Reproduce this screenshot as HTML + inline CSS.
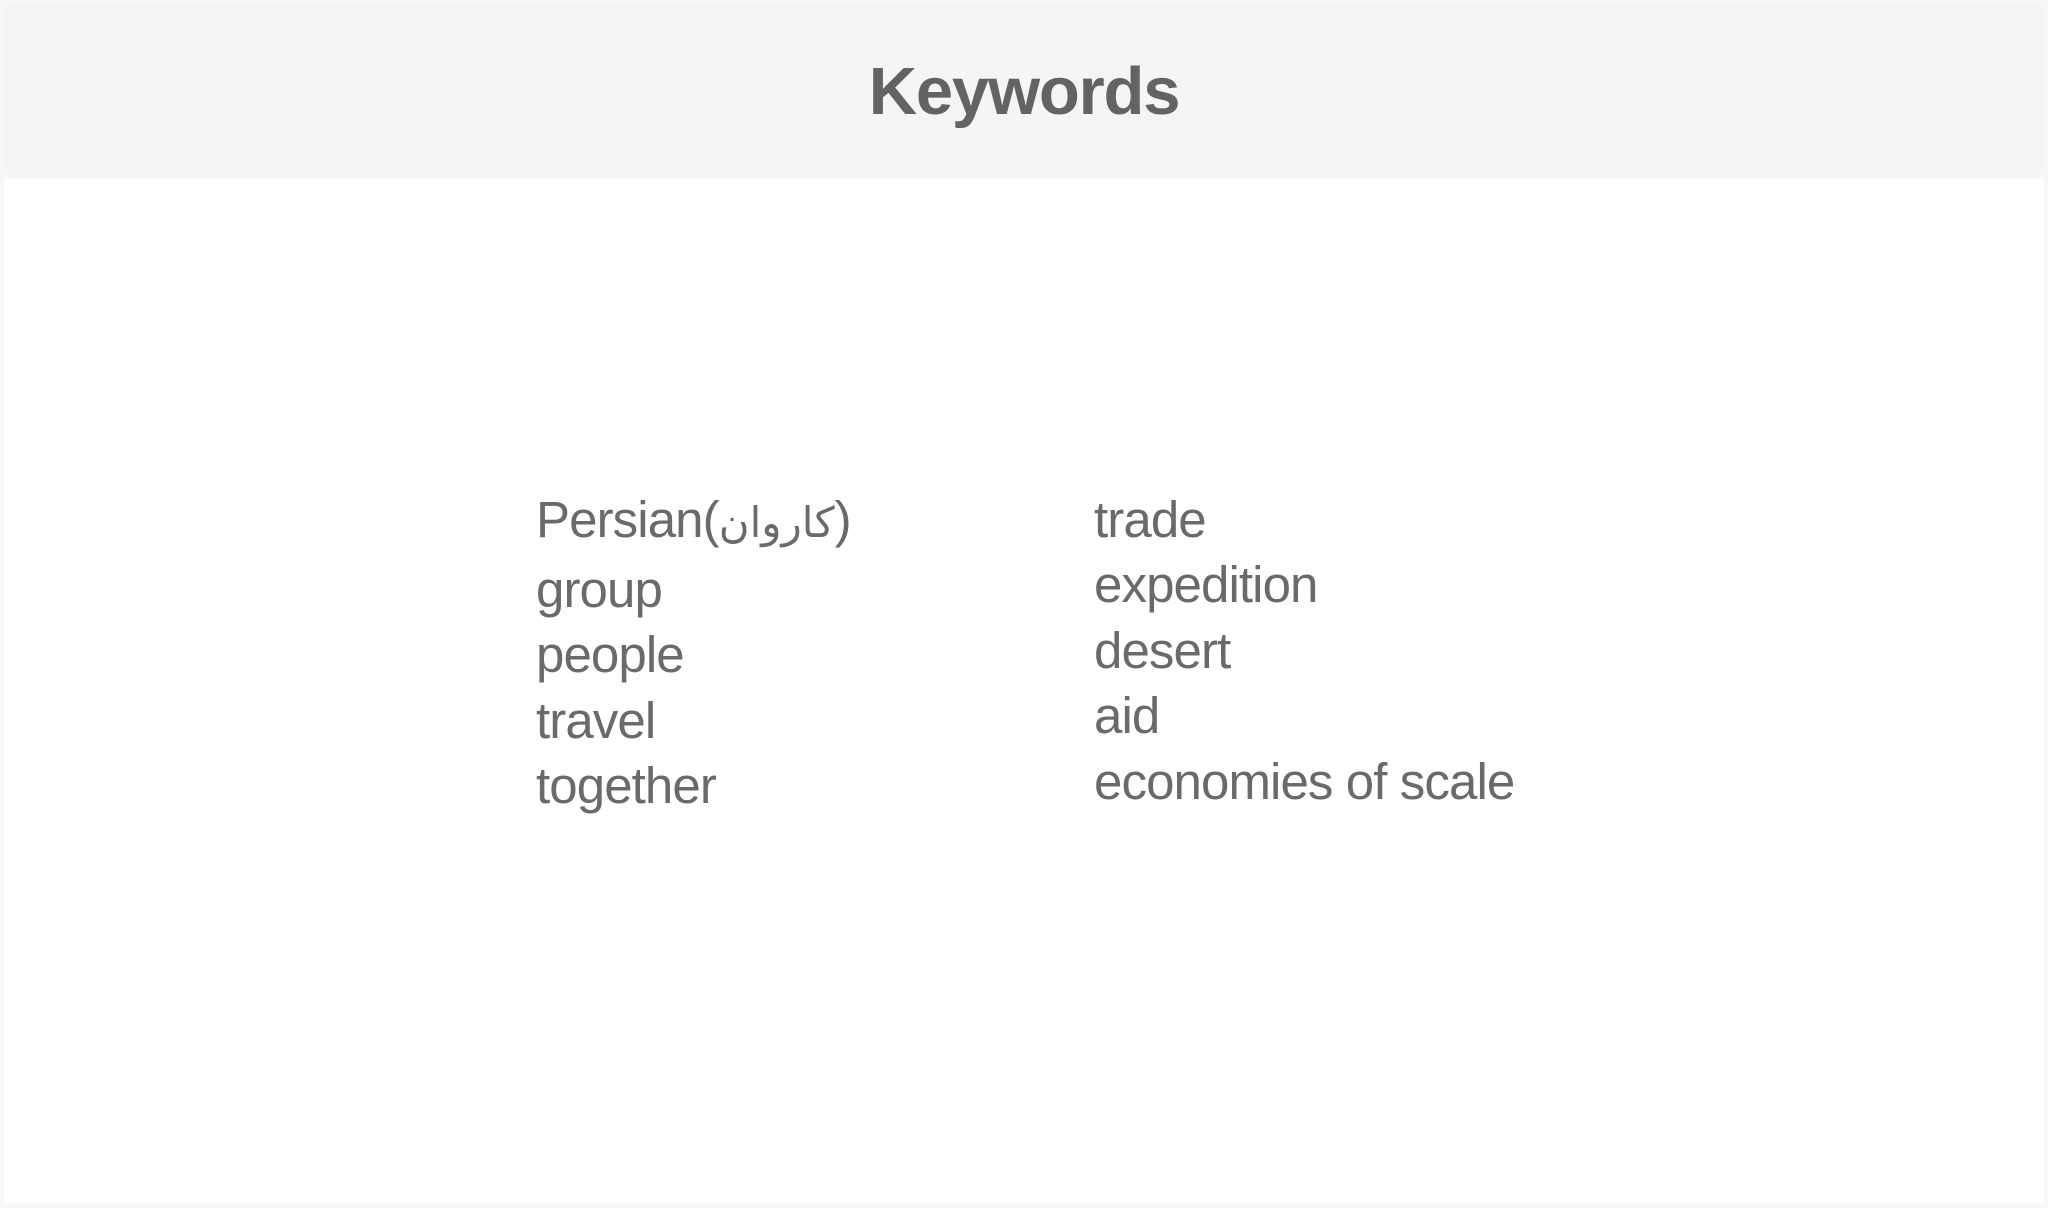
<!DOCTYPE html>
<html><head><meta charset="utf-8"><style>
html,body{margin:0;padding:0;width:2048px;height:1208px;background:#f7f7f7;overflow:hidden;font-family:"Liberation Sans",sans-serif;color:#666}
.hdr{position:absolute;left:3px;top:3px;width:2042px;height:171px;background:#f5f5f5}
.title{position:absolute;left:0;width:2048px;top:52px;text-align:center;font-weight:bold;font-size:67px;line-height:80px;letter-spacing:-1.2px;color:#636363}
.body{position:absolute;left:4px;top:179px;width:2040px;height:1024px;background:#fff}
.t{position:absolute;font-size:51px;line-height:60px;letter-spacing:-0.9px;color:#6a6a6a;white-space:nowrap}
</style></head><body>
<div class="hdr"></div>
<div class="title">Keywords</div>
<div class="body"></div>
<div class="t" style="left:536px;top:490px">Persian(<span style="font-family:'DejaVu Sans',sans-serif;font-size:42px;letter-spacing:0">کاروان</span>)</div>
<div class="t" style="left:536px;top:560px">group</div>
<div class="t" style="left:536px;top:625px">people</div>
<div class="t" style="left:536px;top:691px">travel</div>
<div class="t" style="left:536px;top:756px">together</div>
<div class="t" style="left:1094px;top:490px">trade</div>
<div class="t" style="left:1094px;top:555px">expedition</div>
<div class="t" style="left:1094px;top:621px">desert</div>
<div class="t" style="left:1094px;top:686px">aid</div>
<div class="t" style="left:1094px;top:752px">economies of scale</div>
</body></html>
